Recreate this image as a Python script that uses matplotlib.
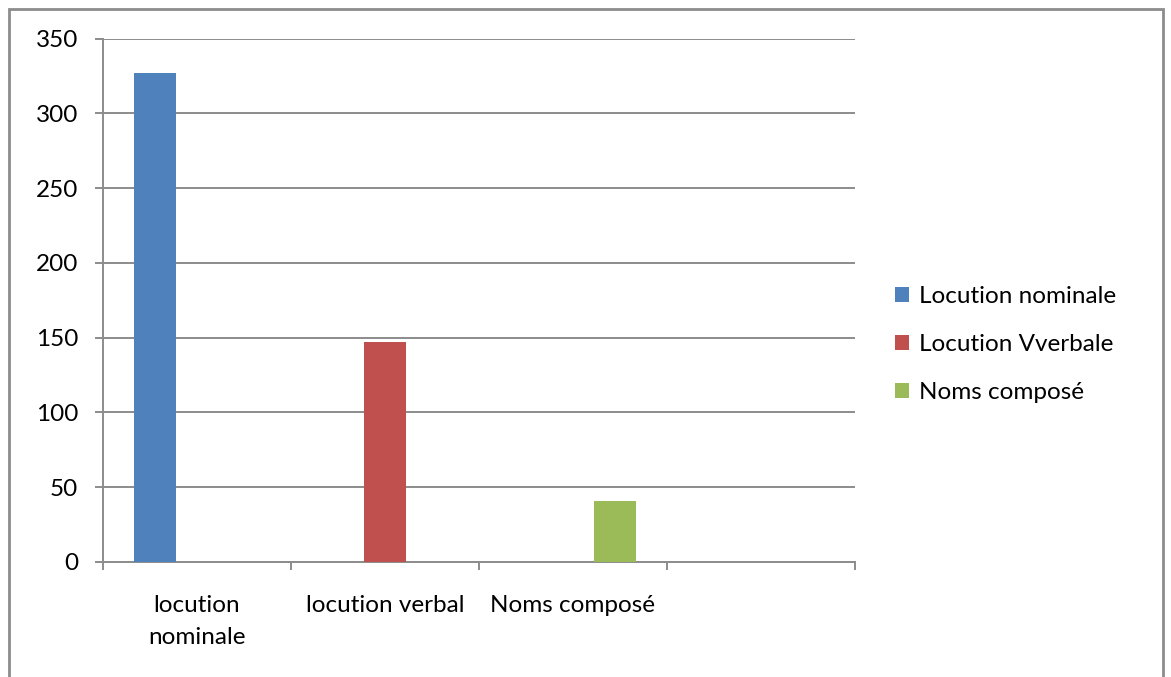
import matplotlib
matplotlib.use("Agg")
import matplotlib.pyplot as plt
from matplotlib.patches import Rectangle
import numpy as np

plt.rcParams['font.family'] = ['Lato', 'DejaVu Sans']

categories = ["locution\nnominale", "locution verbal", "Noms composé", ""]
series_names = ["Locution nominale", "Locution Vverbale", "Noms composé"]
series_values = [
    [327, 0, 0, 0],
    [0, 147, 0, 0],
    [0, 0, 41, 0],
]
colors = ["#4f81bd", "#c0504d", "#9bbb59"]
yticks = [0, 50, 100, 150, 200, 250, 300, 350]

W, H = 1171, 677
fig = plt.figure(figsize=(W / 100, H / 100), dpi=100)
ax = fig.add_axes([103 / W, (H - 562) / H, (855 - 103) / W, (562 - 38.5) / H])

grey = "#8c8c8c"
fs = 17.5
bw = 0.223
x = np.arange(len(categories)) + 0.5
for k, (name, vals) in enumerate(zip(series_names, series_values)):
    ax.bar(x + (k - 1) * bw, vals, width=bw, color=colors[k], label=name, zorder=3)

ax.set_xlim(0, len(categories))
ax.set_ylim(0, 350)
ax.set_yticks(yticks)
ax.yaxis.grid(True, color=grey, linewidth=1.4, zorder=0)
ax.set_axisbelow(True)

ax.set_xticks(np.arange(len(categories) + 1))
ax.set_xticklabels([])
ax.set_xticks(x, minor=True)
ax.set_xticklabels(categories, minor=True, fontsize=fs, linespacing=1.6)
ax.tick_params(axis='x', which='minor', length=0, pad=24)
ax.tick_params(axis='x', which='major', length=6, width=1.4, color=grey)
ax.tick_params(axis='y', length=6, width=1.4, color=grey, labelsize=fs, pad=12)
for lbl in ax.get_xticklabels(minor=True):
    lbl.set_verticalalignment('top')

for s in ["top", "right"]:
    ax.spines[s].set_visible(False)
for s in ["left", "bottom"]:
    ax.spines[s].set_color(grey)
    ax.spines[s].set_linewidth(1.4)

leg = fig.legend(loc="upper left", bbox_to_anchor=(873 / W, 1 - 264 / H), frameon=False,
                 fontsize=fs, handlelength=0.6, handleheight=0.6, handletextpad=0.4,
                 labelspacing=1.12)

# outer frame of the chart
fig.patches.append(Rectangle((8.5 / W, -0.05), (1163 - 8.5) / W, 1.05 - 9 / H,
                             transform=fig.transFigure, fill=False,
                             edgecolor=grey, linewidth=2))

fig.savefig("out.png", dpi=100)
